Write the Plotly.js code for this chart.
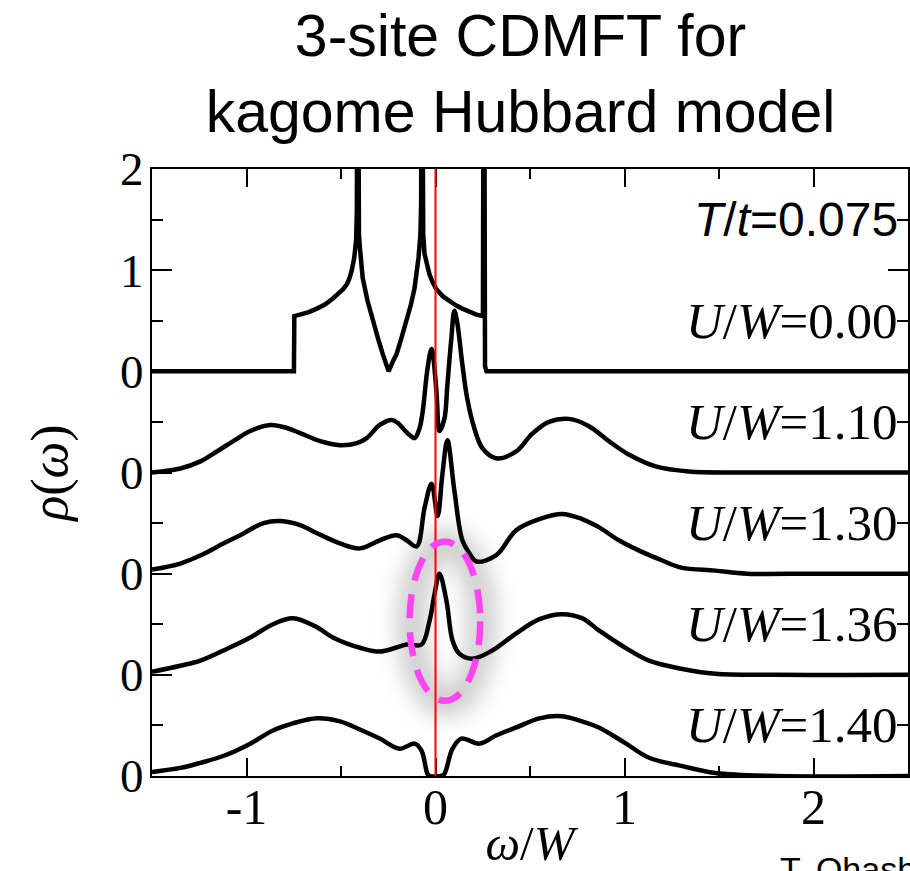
<!DOCTYPE html>
<html>
<head>
<meta charset="utf-8">
<script src="https://cdn.plot.ly/plotly-3.0.1.min.js"></script>
<style>html,body{margin:0;padding:0;background:#fff;}#chart{width:910px;height:871px;}</style>
</head>
<body>
<svg width="0" height="0" style="position:absolute">
  <defs>
    <filter id="shadowBlur" x="-80%" y="-80%" width="260%" height="260%">
      <feGaussianBlur stdDeviation="11"/>
    </filter>
  </defs>
</svg>
<div id="chart"></div>
<script>
// ---- data ----
const seriesNames = ["U/W=0.00", "U/W=1.10", "U/W=1.30", "U/W=1.36", "U/W=1.40"];
const offsets = [0, -1, -2, -3, -4];

const omega0 = [-1.5, -0.749, -0.747, -0.717, -0.67, -0.628, -0.585, -0.543, -0.51, -0.49, -0.469, -0.455, -0.443, -0.43, -0.42, -0.416, -0.413, -0.41, -0.405, -0.40, -0.385, -0.36, -0.332, -0.305, -0.279, -0.248, -0.225, -0.206, -0.18, -0.153, -0.13, -0.111, -0.09, -0.08, -0.076, -0.073, -0.07, -0.065, -0.058, -0.045, -0.032, -0.015, 0.005, 0.04, 0.074, 0.11, 0.142, 0.18, 0.216, 0.245, 0.251, 0.256, 0.262, 0.27, 0.30, 2.5];
const rho0   = [0, 0, 0.545, 0.56, 0.585, 0.62, 0.66, 0.72, 0.77, 0.81, 0.86, 0.92, 1.0, 1.12, 1.3, 1.6, 5, 1.6, 1.35, 1.22, 0.92, 0.70, 0.50, 0.33, 0.17, 0.0, 0.10, 0.17, 0.33, 0.50, 0.66, 0.82, 1.12, 1.35, 1.65, 5, 1.6, 1.35, 1.16, 1.05, 0.96, 0.88, 0.81, 0.74, 0.69, 0.65, 0.62, 0.59, 0.56, 0.55, 0.55, 5, 0.05, 0.0, 0.0, 0.0];

const omega1 = [-1.5, -1.35, -1.244, -1.155, -1.07, -0.98, -0.875, -0.786, -0.717, -0.61, -0.506, -0.416, -0.364, -0.295, -0.232, -0.2, -0.174, -0.137, -0.11, -0.084, -0.068, -0.042, -0.021, 0.005, 0.016, 0.021, 0.047, 0.063, 0.084, 0.1, 0.116, 0.142, 0.168, 0.205, 0.248, 0.32, 0.427, 0.51, 0.6, 0.706, 0.81, 0.917, 1.02, 1.165, 1.34, 1.6, 2.0, 2.5];
const rho1   = [0.0, 0.04, 0.11, 0.21, 0.31, 0.41, 0.47, 0.44, 0.39, 0.31, 0.27, 0.29, 0.34, 0.47, 0.52, 0.49, 0.44, 0.37, 0.34, 0.44, 0.6, 1.03, 1.22, 0.8, 0.44, 0.41, 0.53, 0.87, 1.33, 1.6, 1.47, 1.07, 0.73, 0.44, 0.24, 0.14, 0.21, 0.38, 0.5, 0.53, 0.46, 0.31, 0.18, 0.06, 0.01, 0.0, 0.0, 0.0];

const omega2 = [-1.5, -1.35, -1.244, -1.12, -1.033, -0.91, -0.82, -0.717, -0.627, -0.506, -0.4, -0.295, -0.206, -0.153, -0.1, -0.058, -0.021, 0.011, 0.037, 0.063, 0.1, 0.142, 0.18, 0.216, 0.32, 0.427, 0.55, 0.67, 0.775, 0.864, 0.97, 1.075, 1.2, 1.3, 1.48, 1.65, 2.0, 2.5];
const rho2   = [0.04, 0.1, 0.18, 0.30, 0.38, 0.50, 0.52, 0.48, 0.40, 0.30, 0.25, 0.33, 0.38, 0.33, 0.27, 0.65, 0.89, 0.57, 0.99, 1.32, 0.82, 0.33, 0.2, 0.12, 0.18, 0.43, 0.54, 0.59, 0.54, 0.46, 0.33, 0.23, 0.13, 0.06, 0.03, 0.0, 0.0, 0.0];

const omega3 = [-1.5, -1.35, -1.244, -1.1, -0.98, -0.86, -0.754, -0.627, -0.543, -0.385, -0.295, -0.206, -0.153, -0.074, -0.032, -0.005, 0.021, 0.058, 0.09, 0.126, 0.195, 0.3, 0.427, 0.55, 0.67, 0.775, 0.864, 0.985, 1.13, 1.3, 1.48, 1.8, 2.5];
const rho3   = [0.03, 0.09, 0.14, 0.26, 0.37, 0.50, 0.56, 0.47, 0.37, 0.26, 0.23, 0.27, 0.30, 0.30, 0.53, 0.8, 1.0, 0.73, 0.34, 0.21, 0.16, 0.24, 0.41, 0.55, 0.60, 0.56, 0.44, 0.29, 0.14, 0.06, 0.01, 0.0, 0.0];

const omega4 = [-1.5, -1.35, -1.244, -1.12, -0.98, -0.86, -0.754, -0.627, -0.506, -0.4, -0.295, -0.19, -0.11, -0.074, -0.042, -0.03, 0.03, 0.047, 0.09, 0.137, 0.232, 0.32, 0.427, 0.55, 0.67, 0.775, 0.864, 1.0, 1.13, 1.3, 1.48, 1.8, 2.5];
const rho4   = [0.04, 0.08, 0.13, 0.2, 0.32, 0.45, 0.52, 0.57, 0.54, 0.46, 0.37, 0.27, 0.32, 0.25, 0.02, 0.0, 0.0, 0.02, 0.27, 0.37, 0.32, 0.40, 0.48, 0.57, 0.59, 0.54, 0.48, 0.33, 0.18, 0.10, 0.03, 0.0, 0.0];

const omegas = [omega0, omega1, omega2, omega3, omega4];
const rhos = [rho0, rho1, rho2, rho3, rho4];

const xTickVals = [-1, 0, 1, 2];
const xTickText = ["-1", "0", "1", "2"];
const yTickVals = [2, 1, 0, -1, -2, -3, -4];
const yTickText = ["2", "1", "0", "0", "0", "0", "0"];
const labelY = [1.5, 0.5, -0.5, -1.5, -2.5, -3.5];
const labelText = ["<i>T</i>/<i>t</i>=0.075", "<i>U</i>/<i>W</i>=0.00", "<i>U</i>/<i>W</i>=1.10", "<i>U</i>/<i>W</i>=1.30", "<i>U</i>/<i>W</i>=1.36", "<i>U</i>/<i>W</i>=1.40"];

// ---- traces ----
const traces = omegas.map((om, i) => ({
  x: om,
  y: rhos[i].map(v => v + offsets[i]),
  type: 'scatter',
  mode: 'lines',
  name: seriesNames[i],
  line: {color: '#000', width: 4.5, shape: i === 0 ? 'linear' : 'spline', smoothing: 1},
  hoverinfo: 'skip'
}));

const serif = 'Liberation Serif, Times New Roman, serif';
const sans = 'Liberation Sans, Arial, Helvetica, sans-serif';

const annotations = labelY.map((yv, i) => ({
  x: 2.5, xref: 'x', y: yv, yref: 'y',
  xanchor: 'right', yanchor: 'middle', xshift: -8,
  text: labelText[i], showarrow: false,
  font: {family: i === 0 ? sans : serif, size: i === 0 ? 48 : 51, color: '#000'}
}));
annotations.push({
  x: 0.828, xref: 'paper', y: -0.118, yref: 'paper', xanchor: 'left', yanchor: 'top',
  text: 'T. Ohashi', showarrow: false, font: {family: sans, size: 34, color: '#000'}
});

// ellipse highlight (data coords)
const ell = {x0: -0.137, x1: 0.237, y0: -3.257, y1: -1.683};
const SHADOW_W = 28;
const shapes = [];
shapes.push({type: 'circle', xref: 'x', yref: 'y', x0: ell.x0 + 0.01, x1: ell.x1 + 0.01, y0: ell.y0 - 0.02, y1: ell.y1 - 0.02,
  line: {color: 'rgba(0,0,0,0.2)', width: SHADOW_W}, layer: 'below'});
shapes.push({type: 'line', xref: 'x', yref: 'paper', x0: 0, x1: 0, y0: 0, y1: 1, line: {color: '#ff0000', width: 2}, layer: 'above'});
shapes.push({type: 'circle', xref: 'x', yref: 'y', x0: ell.x0, x1: ell.x1, y0: ell.y0, y1: ell.y1,
  line: {color: '#ff45f0', width: 6.5, dash: '24px,14px'}, layer: 'above'});

const layout = {
  width: 910, height: 871,
  margin: {l: 152, r: 2, t: 169, b: 95},
  paper_bgcolor: '#fff', plot_bgcolor: '#fff',
  showlegend: false,
  title: {text: '3-site CDMFT for<br>kagome Hubbard model', font: {family: sans, size: 59, color: '#000'},
          x: 0.572, xanchor: 'center', xref: 'container', y: 0.936, yanchor: 'top', yref: 'container'},
  xaxis: {
    range: [-1.5, 2.5], showgrid: false, zeroline: false,
    showline: true, linecolor: '#000', linewidth: 2, mirror: 'ticks',
    ticks: 'inside', ticklen: 18, tickwidth: 2, tickcolor: '#000',
    tickvals: xTickVals, ticktext: xTickText,
    tickfont: {family: serif, size: 50, color: '#000'}, ticklabelstandoff: -14,
    minor: {tickvals: [-0.5, 0.5, 1.5], ticks: 'inside', ticklen: 10, tickwidth: 2, tickcolor: '#000'},
    title: {text: '<i>ω</i>/<i>W</i>', font: {family: serif, size: 49, color: '#000'}, standoff: 8}
  },
  yaxis: {
    range: [-4, 2], showgrid: false, zeroline: false,
    showline: true, linecolor: '#000', linewidth: 2, mirror: 'ticks',
    ticks: 'inside', ticklen: 20, tickwidth: 2, tickcolor: '#000',
    tickvals: yTickVals, ticktext: yTickText,
    tickfont: {family: serif, size: 47, color: '#000'}, ticklabelstandoff: -3,
    minor: {tickvals: [1.5, 0.5, -0.5, -1.5, -2.5, -3.5], ticks: 'inside', ticklen: 11, tickwidth: 2, tickcolor: '#000'},
    title: {text: '<i>ρ</i>(<i>ω</i>)', font: {family: serif, size: 52, color: '#000'}, standoff: 36},
    automargin: false
  },
  annotations: annotations,
  shapes: shapes
};

function softenShadow(gd) {
  // soften the highlight shadow with a gaussian blur
  const paths = Array.from(gd.querySelectorAll('.shapelayer path'));
  paths.forEach(p => {
    const sw = parseFloat(p.style.strokeWidth || p.getAttribute('stroke-width'));
    if (Math.abs(sw - SHADOW_W) < 0.5) {
      p.setAttribute('filter', 'url(#shadowBlur)');
      p.style.filter = 'url(#shadowBlur)';
    }
  });
}

const gdEl = document.getElementById('chart');
Plotly.newPlot(gdEl, traces, layout, {displayModeBar: false, staticPlot: true}).then(softenShadow);
softenShadow(gdEl);
</script>
</body>
</html>
